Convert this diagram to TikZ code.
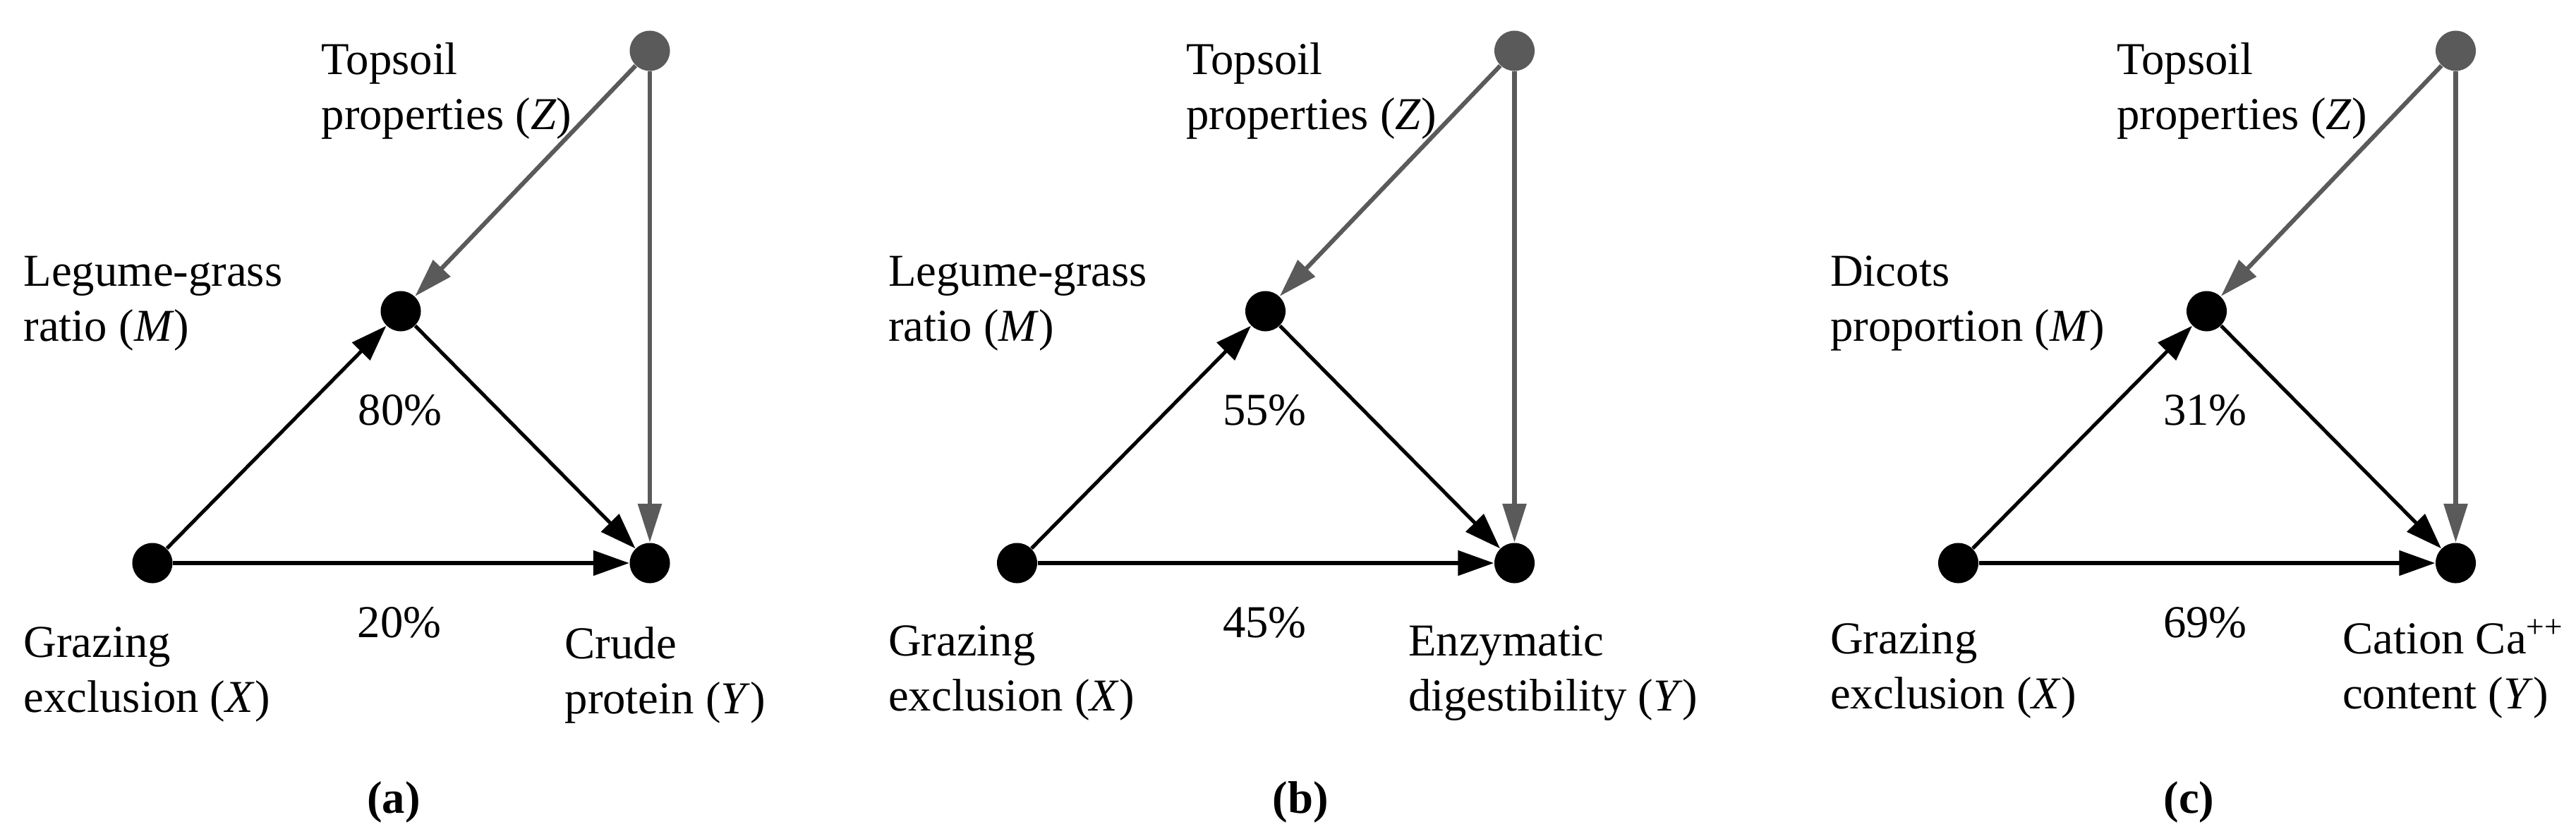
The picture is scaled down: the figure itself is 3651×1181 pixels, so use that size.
\documentclass[tikz,border=0pt]{standalone}
\usepackage{fontspec}
\setmainfont{Liberation Serif}
\usetikzlibrary{arrows.meta}
\definecolor{zgray}{RGB}{90,90,90}
\newcommand{\twol}[2]{\begin{tabular}[t]{@{}l@{}}#1\\#2\end{tabular}}
\begin{document}
\begin{tikzpicture}[x=0.01cm,y=-0.01cm,
  dot/.style={circle,fill=black,draw=none,minimum size=0.57cm,inner sep=0pt},
  zdot/.style={dot,fill=zgray},
  lbl/.style={inner sep=0pt,anchor=base west,font=\fontsize{18.4pt}{22.2pt}\selectfont},
  pct/.style={inner sep=0pt,anchor=base,font=\fontsize{18.4pt}{22.2pt}\selectfont},
  capt/.style={pct,font=\fontsize{18.4pt}{22.2pt}\selectfont\bfseries},
  blk/.style={draw=black,line width=1.45pt,-{Triangle[length=0.51cm,width=0.35cm]}},
  gry/.style={draw=zgray,line width=1.75pt,-{Triangle[length=0.55cm,width=0.33cm]}},
]
\useasboundingbox (0,0) rectangle (3651,1181);
\fill[white] (0,0) rectangle (3651,1181);

% ---------------- panel (a)
\begin{scope}
\node[dot] (Xa) at (216,798) {};
\node[dot] (Ma) at (568,441) {};
\node[dot] (Ya) at (921,798) {};
\node[zdot] (Za) at (921,72) {};
\draw[gry] (Za) -- (Ma);
\draw[gry] (Za) -- (Ya);
\draw[blk] (Xa) -- (Ma);
\draw[blk] (Ma) -- (Ya);
\draw[blk] (Xa) -- (Ya);
\node[lbl] (tZa) at (455,105) {\twol{Topsoil}{properties (\textit{Z})}};
\node[lbl] (tMa) at (33,405) {\twol{Legume-grass}{ratio (\textit{M})}};
\node[lbl] (tXa) at (33,931) {\twol{Grazing}{exclusion (\textit{X})}};
\node[lbl] (tYa) at (800,933) {\twol{Crude}{protein (\textit{Y})}};
\node[pct] (pMa) at (567,602) {80\%};
\node[pct] (pXa) at (566,903) {20\%};
\node[capt] (ca) at (558,1152) {(a)};
\end{scope}

% ---------------- panel (b)
\begin{scope}[shift={(1225.5,0)}]
\node[dot] (Xb) at (216,798) {};
\node[dot] (Mb) at (568,441) {};
\node[dot] (Yb) at (921,798) {};
\node[zdot] (Zb) at (921,72) {};
\draw[gry] (Zb) -- (Mb);
\draw[gry] (Zb) -- (Yb);
\draw[blk] (Xb) -- (Mb);
\draw[blk] (Mb) -- (Yb);
\draw[blk] (Xb) -- (Yb);
\node[lbl] (tZb) at (455,105) {\twol{Topsoil}{properties (\textit{Z})}};
\node[lbl] (tMb) at (33,405) {\twol{Legume-grass}{ratio (\textit{M})}};
\node[lbl] (tXb) at (33,929) {\twol{Grazing}{exclusion (\textit{X})}};
\node[lbl] (tYb) at (770,929) {\twol{Enzymatic}{digestibility (\textit{Y})}};
\node[pct] (pMb) at (567,602) {55\%};
\node[pct] (pXb) at (567,903) {45\%};
\node[capt] (cb) at (618,1152) {(b)};
\end{scope}

% ---------------- panel (c)
\begin{scope}[shift={(2559.5,0)}]
\node[dot] (Xc) at (216,798) {};
\node[dot] (Mc) at (568,441) {};
\node[dot] (Yc) at (921,798) {};
\node[zdot] (Zc) at (921,72) {};
\draw[gry] (Zc) -- (Mc);
\draw[gry] (Zc) -- (Yc);
\draw[blk] (Xc) -- (Mc);
\draw[blk] (Mc) -- (Yc);
\draw[blk] (Xc) -- (Yc);
\node[lbl] (tZc) at (440,105) {\twol{Topsoil}{properties (\textit{Z})}};
\node[lbl] (tMc) at (34,405) {\twol{Dicots}{proportion (\textit{M})}};
\node[lbl] (tXc) at (34,926) {\twol{Grazing}{exclusion (\textit{X})}};
\node[lbl] (tYc) at (760,926) {\twol{Cation Ca\textsuperscript{++}}{content (\textit{Y})}};
\node[pct] (pMc) at (566,602) {31\%};
\node[pct] (pXc) at (566,903) {69\%};
\node[capt] (cc) at (543,1152) {(c)};
\end{scope}
\end{tikzpicture}
\end{document}
